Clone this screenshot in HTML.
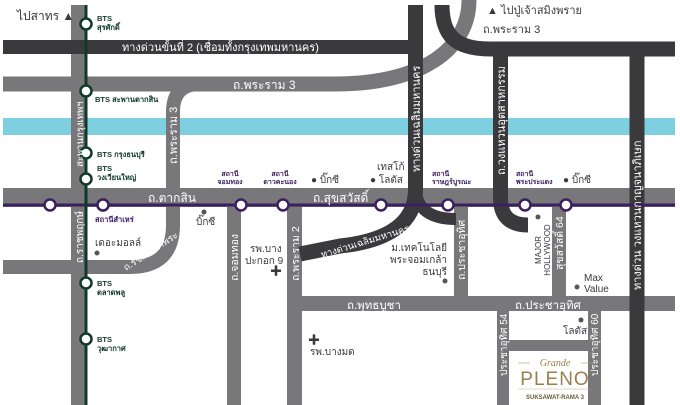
<!DOCTYPE html>
<html><head><meta charset="utf-8"><style>
html,body{margin:0;padding:0;background:#fff;}
svg{display:block;font-family:"Liberation Sans","Noto Sans CJK SC",sans-serif;}
.w{fill:#fff;font-size:11.5px;}
.d{fill:#3a3a3d;font-size:10px;}
.g{fill:#0f3a28;font-size:7.5px;font-weight:bold;}
.p{fill:#3b1f5e;font-size:7px;font-weight:bold;}
</style></head><body>
<svg width="680" height="405" viewBox="0 0 680 405" xmlns="http://www.w3.org/2000/svg">
<rect width="680" height="405" fill="#fff"/>
<rect x="3" y="118" width="672" height="17" fill="#7ecfe0"/>
<g fill="#78787b">
<rect x="71" y="5" width="16" height="400"/>
<rect x="3" y="188" width="672" height="19"/>
<rect x="227" y="205" width="14" height="200"/>
<rect x="287" y="205" width="15" height="200"/>
<rect x="287" y="296" width="388" height="15"/>
<rect x="454" y="205" width="14" height="95"/>
<rect x="552" y="205" width="14" height="95"/>
<rect x="497" y="305" width="12" height="100"/>
<rect x="588" y="305" width="13" height="100"/>
<rect x="497" y="340" width="104" height="11"/>
</g>
<g fill="none" stroke="#78787b">
<path d="M3 84 H335 C420 84 469 50 469 0" stroke-width="15"/>
<path d="M210 84 H200 Q173 84 173 112 V225 Q173 267 130 267 H3" stroke-width="14"/>
</g>
<rect x="3" y="40" width="414" height="14" fill="#3a3a3d"/>
<g fill="none" stroke="#3a3a3d" stroke-width="15">
<path d="M442 5 C442 35 455 49 490 49 H675"/>
<path d="M500.5 49 V198 Q500.5 225 528 225"/>
<path d="M637 49 V405"/>
<path d="M415.5 5 V190 Q415 238 340 246 L300 254"/>
<path d="M415.5 190 Q418 219 456 219" stroke-width="12"/>
</g>
<line x1="3" y1="205" x2="675" y2="205" stroke="#3b1f5e" stroke-width="3"/>
<g fill="#fff" stroke="#3b1f5e" stroke-width="2.5">
<circle cx="50" cy="205" r="5.5"/><circle cx="103" cy="205" r="5.5"/><circle cx="241" cy="205" r="5.5"/><circle cx="283" cy="205" r="5.5"/><circle cx="381" cy="205" r="5.5"/><circle cx="448" cy="205" r="5.5"/><circle cx="525" cy="205" r="5.5"/><circle cx="566" cy="205" r="5.5"/>
</g>
<line x1="86" y1="5" x2="86" y2="405" stroke="#0f3a28" stroke-width="3"/>
<g fill="#fff" stroke="#0f3a28" stroke-width="2.5">
<circle cx="86" cy="24" r="5.5"/><circle cx="86" cy="91" r="5.5"/><circle cx="86" cy="153" r="5.5"/><circle cx="86" cy="179" r="5.5"/><circle cx="86" cy="283" r="5.5"/><circle cx="86" cy="339" r="5.5"/><circle cx="103" cy="205" r="5.5" stroke="#3b1f5e"/>
</g>
<text x="17" y="20" class="d" style="font-size:12px">ไปสาทร ▲</text>
<text x="97" y="21" class="g">BTS</text><text x="97" y="30" class="g">สุรศักดิ์</text>
<text x="122" y="51" class="w" style="font-size:11px">ทางด่วนขั้นที่ 2 (เชื่อมทั้งกรุงเทพมหานคร)</text>
<text x="233" y="89" class="w" style="font-size:12px">ถ.พระราม 3</text>
<text x="95" y="102" class="g">BTS สะพานตากสิน</text>
<text x="97" y="157" class="g">BTS กรุงธนบุรี</text>
<text x="97" y="171" class="g">BTS</text><text x="97" y="180" class="g">วงเวียนใหญ่</text>
<text transform="translate(83,167) rotate(-90)" class="w" style="font-size:9.5px">สะพานกรุงเทพฯ</text>
<text transform="translate(177,164) rotate(-90)" class="w" style="font-size:11px">ถ.พระราม 3</text>
<text transform="translate(420,172) rotate(-90)" class="w" style="font-size:11px">ทางด่วนเฉลิมมหานคร</text>
<text transform="translate(505,175) rotate(-90)" class="w" style="font-size:11px">ถ.วงแหวนอุตสาหกรรม</text>
<text transform="translate(641,290) rotate(-90)" class="w" style="font-size:11px">ทางด่วน วงแหวนกาญจนาภิเษก</text>
<text x="487" y="14" class="d" style="font-size:11px">▲ ไปปู่เจ้าสมิงพราย</text>
<text x="483" y="33" class="d" style="font-size:11px">ถ.พระราม 3</text>
<text x="230" y="176" class="p" text-anchor="middle">สถานี</text><text x="230" y="184" class="p" text-anchor="middle">จอมทอง</text>
<text x="280" y="176" class="p" text-anchor="middle">สถานี</text><text x="280" y="184" class="p" text-anchor="middle">ดาวคะนอง</text>
<text x="311" y="183" class="d">● บิ๊กซี</text>
<text x="377" y="170" class="d">เทสโก้</text><text x="370" y="183" class="d">● โลตัส</text>
<text x="432" y="176" class="p">สถานี</text><text x="432" y="184" class="p">ราษฎร์บูรณะ</text>
<text x="516" y="176" class="p">สถานี</text><text x="516" y="184" class="p">พระประแดง</text>
<text x="563" y="183" class="d">● บิ๊กซี</text>
<text x="148" y="202" class="w" style="font-size:12px">ถ.ตากสิน</text>
<text x="313" y="202" class="w" style="font-size:12px">ถ.สุขสวัสดิ์</text>
<text x="95" y="222" class="p" style="font-size:7.5px">สถานีสำเหร่</text>
<circle cx="204" cy="212" r="2.5" fill="#555"/><text x="196" y="225" class="d">บิ๊กซี</text>
<text x="95" y="246" class="d">เดอะมอลล์</text><circle cx="97" cy="253" r="2.5" fill="#555"/>
<text transform="translate(83,237) rotate(-90)" class="w" style="font-size:10px" text-anchor="middle">ถ.ราชพฤกษ์</text>
<text transform="translate(126,271) rotate(-33)" class="w" style="font-size:9.5px">ถ.รัชดา-ท่าพระ</text>
<text x="97" y="286" class="g">BTS</text><text x="97" y="295" class="g">ตลาดพลู</text>
<text x="97" y="342" class="g">BTS</text><text x="97" y="351" class="g">วุฒากาศ</text>
<text transform="translate(238,281) rotate(-90)" class="w" style="font-size:10.5px">ถ.จอมทอง</text>
<text x="250" y="252" class="d">รพ.บาง</text><text x="245" y="264" class="d">ปะกอก 9</text>
<text x="270" y="275" class="d" style="font-size:12px;font-weight:bold">✚</text>
<text transform="translate(299,281) rotate(-90)" class="w" style="font-size:10.5px">ถ.พระราม 2</text>
<text transform="translate(322,258) rotate(-17)" class="w" style="font-size:9.5px">ทางด่วนเฉลิมมหานคร</text>
<text x="447" y="251" class="d" text-anchor="end">ม.เทคโนโลยี</text><text x="447" y="263" class="d" text-anchor="end">พระจอมเกล้า</text><text x="447" y="275" class="d" text-anchor="end">ธนบุรี</text>
<circle cx="445" cy="281" r="2.5" fill="#555"/>
<text transform="translate(465,280) rotate(-90)" class="w" style="font-size:10.5px">ถ.ประชาอุทิศ</text>
<circle cx="538" cy="217" r="2.5" fill="#555"/>
<text transform="translate(541,250) rotate(-90)" class="d" style="font-size:8px" text-anchor="middle">MAJOR</text>
<text transform="translate(550,250) rotate(-90)" class="d" style="font-size:8px" text-anchor="middle">HOLLYWOOD</text>
<text transform="translate(563,270) rotate(-90)" class="w" style="font-size:10.5px">สุขสวัสดิ์ 64</text>
<text x="584" y="281" class="d">Max</text><circle cx="577" cy="287" r="2.5" fill="#555"/><text x="584" y="292" class="d">Value</text>
<text x="347" y="309" class="w" style="font-size:11.5px">ถ.พุทธบูชา</text>
<text x="515" y="309" class="w" style="font-size:11.5px">ถ.ประชาอุทิศ</text>
<circle cx="581" cy="320" r="2.5" fill="#555"/><text x="563" y="334" class="d">โลตัส</text>
<text transform="translate(507,376) rotate(-90)" class="w" style="font-size:10px">ประชาอุทิศ 54</text>
<text transform="translate(598,376) rotate(-90)" class="w" style="font-size:10px">ประชาอุทิศ 60</text>
<text x="308" y="344" class="d" style="font-size:12px;font-weight:bold">✚</text>
<text x="310" y="355" class="d">รพ.บางมด</text>
<line x1="518" y1="363" x2="530" y2="363" stroke="#b59a6a" stroke-width="0.6"/>
<line x1="581" y1="363" x2="593" y2="363" stroke="#b59a6a" stroke-width="0.6"/>
<text x="555" y="366" text-anchor="middle" fill="#9b7f4a" style="font-family:'Liberation Serif',serif;font-style:italic;font-size:10px">Grande</text>
<text x="555" y="385" text-anchor="middle" fill="#9b7f4a" style="font-size:19px;letter-spacing:1px">PLENO</text>
<line x1="518" y1="389" x2="593" y2="389" stroke="#b59a6a" stroke-width="0.4"/>
<text x="555" y="399" text-anchor="middle" fill="#6b5a3a" style="font-size:6px;font-weight:bold">SUKSAWAT-RAMA 3</text>
</svg>
</body></html>
